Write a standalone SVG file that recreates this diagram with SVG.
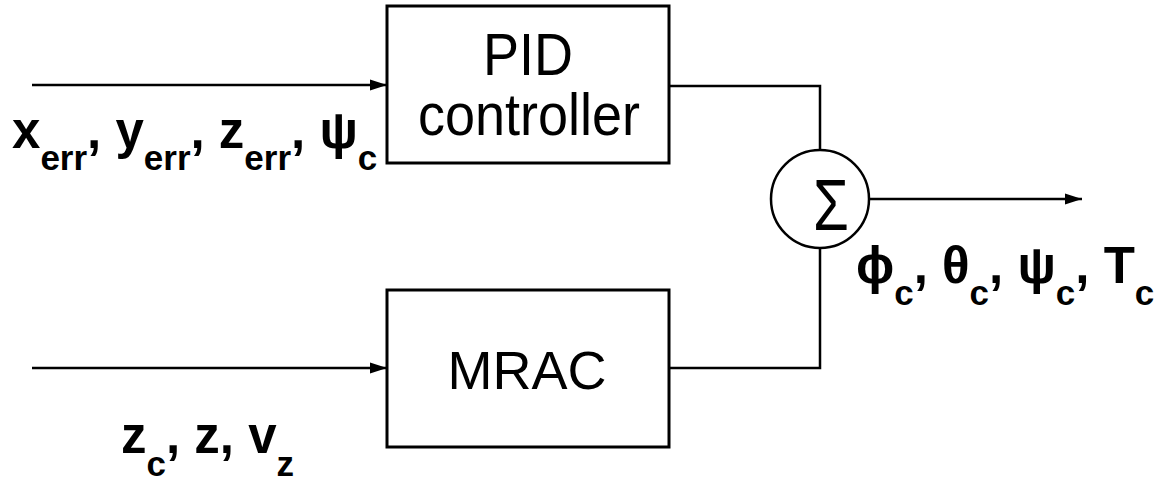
<svg xmlns="http://www.w3.org/2000/svg" width="1162" height="483" viewBox="0 0 1162 483">
<style>
.box{fill:#fff;stroke:#000;stroke-width:3}
.ln{fill:none;stroke:#000;stroke-width:2.5}
.bt{font-family:"Liberation Sans",Arial,sans-serif;font-size:54px;fill:#000;text-anchor:middle}
.lb{font-family:"Liberation Sans",Arial,sans-serif;font-weight:bold;font-size:51px;fill:#000}
.sb{font-size:35px}
</style>
<defs>
<marker id="ah" markerWidth="17" markerHeight="12" refX="17" refY="6" orient="auto" markerUnits="userSpaceOnUse">
<path d="M0,0.5 L17,6 L0,11.5 Z" fill="#000"/>
</marker>
</defs>
<rect width="1162" height="483" fill="#fff"/>
<g id="connectors">
<line class="ln" x1="32" y1="85" x2="387" y2="85" marker-end="url(#ah)"/>
<line class="ln" x1="32" y1="368" x2="387" y2="368" marker-end="url(#ah)"/>
<polyline class="ln" points="669,86 820,86 820,150"/>
<polyline class="ln" points="669,368 820,368 820,248"/>
<line class="ln" x1="869" y1="199" x2="1082" y2="199" marker-end="url(#ah)"/>
</g>
<g id="pid">
<rect class="box" x="387" y="6" width="282" height="157"/>
<text class="bt" transform="translate(528,75) scale(1,1.08)">PID</text>
<text class="bt" transform="translate(529,135) scale(1,1.08)">controller</text>
</g>
<g id="mrac">
<rect class="box" x="387" y="290" width="282" height="157"/>
<text class="bt" x="527" y="389">MRAC</text>
</g>
<g id="sum">
<circle cx="820" cy="199" r="49" fill="#fff" stroke="#000" stroke-width="2.5"/>
<text transform="translate(831,230) scale(1,1.25)" font-family="Liberation Sans,Arial,sans-serif" font-size="58" text-anchor="middle">Σ</text>
</g>
<g id="labels">
<text class="lb" x="12" y="148">x<tspan class="sb" dy="22">err</tspan><tspan dy="-22">, y</tspan><tspan class="sb" dy="22">err</tspan><tspan dy="-22">, z</tspan><tspan class="sb" dy="22">err</tspan><tspan dy="-22">, ψ</tspan><tspan class="sb" dy="22">c</tspan></text>
<text class="lb" x="856" y="283">ϕ<tspan class="sb" dy="22">c</tspan><tspan dy="-22">, θ</tspan><tspan class="sb" dy="22">c</tspan><tspan dy="-22">, ψ</tspan><tspan class="sb" dy="22">c</tspan><tspan dy="-22">, T</tspan><tspan class="sb" dy="22">c</tspan></text>
<text class="lb" x="121" y="453">z<tspan class="sb" dy="23">c</tspan><tspan dy="-23">, z, v</tspan><tspan class="sb" dy="23">z</tspan></text>
</g>
</svg>
